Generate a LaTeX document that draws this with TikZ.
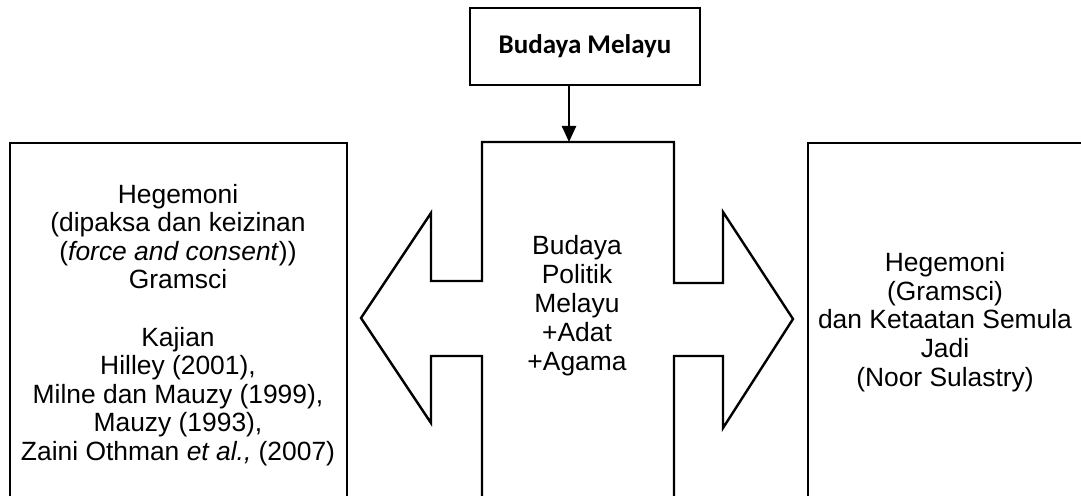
\documentclass[tikz,border=0pt]{standalone}
\usepackage{fontspec}
\setmainfont{Liberation Sans}
\newfontfamily\calibri{Carlito}
\usetikzlibrary{arrows.meta}

\begin{document}
\begin{tikzpicture}[%
      x=0.5pt, y=-0.5pt,
      teks/.style={align=center, font=\fontsize{13.2}{14.3}\selectfont},
      ]
      \useasboundingbox (0,0) rectangle (1081,496);

      % kotak atas
      \node [draw, line width=1.3pt, minimum width=115pt, minimum height=38.5pt,
             font=\calibri\bfseries\fontsize{13.5}{16}\selectfont] (budaya) at (585,46.5) {Budaya Melayu};

      % anak panah dua hala
      \draw [color=black, line width=1.2pt, line join=miter]
            (482,496) -- (482,356) -- (431,356) -- (431,423) -- (361,318)
            -- (431,213) -- (431,281) -- (482,281) -- (482,142) -- (674,142)
            -- (674,283) -- (723,283) -- (723,212) -- (793,319) -- (723,428)
            -- (723,356) -- (674,356) -- (674,496);
      \coordinate (atas) at (569,142);
      \draw [color=black, line width=1.2pt, -{Triangle[length=8pt,width=7pt]}] (budaya.south -| atas) -- (atas);

      % kotak kiri dan kanan
      \draw [color=black, line width=0.7pt] (10,496) -- (10,143) -- (347,143) -- (347,496);
      \draw [color=black, line width=0.7pt] (1085,143) -- (808,143) -- (808,496);

      \node [teks, font=\fontsize{13.2}{14.5}\selectfont] (pusat) at (577,306)
            {Budaya\\Politik\\Melayu\\+Adat\\+Agama};
      \node [teks] (kiri) at (178,325)
            {Hegemoni\\(dipaksa dan keizinan\\(\textit{force and consent}))\\Gramsci\\[\baselineskip]
             Kajian\\Hilley (2001),\\Milne dan Mauzy (1999),\\Mauzy (1993),\\Zaini Othman \textit{et al.,} (2007)};
      \node [teks] (kanan) at (945,322)
            {Hegemoni\\(Gramsci)\\dan Ketaatan Semula\\Jadi\\(Noor Sulastry)};
      \end{tikzpicture}
\end{document}
